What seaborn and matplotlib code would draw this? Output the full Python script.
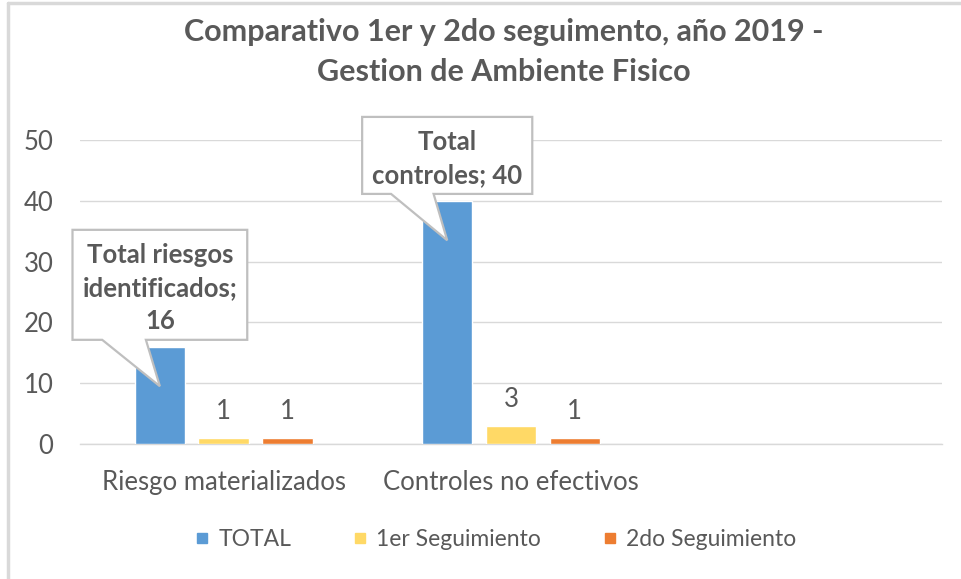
import matplotlib
matplotlib.use("Agg")
import matplotlib.pyplot as plt
from matplotlib.lines import Line2D
from matplotlib.patches import Polygon
import seaborn as sns
import pandas as pd

# ---- data ----
categories = ["Riesgo materializados", "Controles no efectivos", ""]
series = ["TOTAL", "1er Seguimiento", "2do Seguimiento"]
total = [16, 40]
primer = [1, 3]
segundo = [1, 1]
callout_text = ["Total riesgos\nidentificados;\n16", "Total\ncontroles; 40"]
title = "Comparativo 1er y 2do seguimento, año 2019 -\nGestion de Ambiente Fisico"
yticks = [0, 10, 20, 30, 40, 50]

colors = ["#5B9BD5", "#FFD966", "#ED7D31"]
TXT = "#595959"
GRID = "#D9D9D9"
FS = 18.5

rows = []
for i, cat in enumerate(categories[:2]):
    for s, vals in zip(series, [total, primer, segundo]):
        rows.append({"cat": cat, "serie": s, "valor": vals[i]})
df = pd.DataFrame(rows)

sns.set_theme(style="white")
plt.rcParams["font.family"] = ["Lato", "DejaVu Sans"]

W, H = 962, 579
fig = plt.figure(figsize=(W / 100, H / 100), dpi=100)
ax = fig.add_axes([80 / W, 1 - 444 / H, 862 / W, (444 - 140) / H])

sns.barplot(data=df, x="cat", y="valor", hue="serie", order=categories,
            hue_order=series, palette=colors, width=0.666, gap=0.21,
            saturation=1, ax=ax, legend=True, zorder=3)

ax.set_xlim(-0.5, 2.5)
ax.set_ylim(0, 50)
ax.set_yticks(yticks)
ax.set_xlabel("")
ax.set_ylabel("")
ax.grid(axis="y", color=GRID, lw=1, zorder=0)
ax.set_axisbelow(True)
for sp in ["top", "right", "left"]:
    ax.spines[sp].set_visible(False)
ax.spines["bottom"].set_color(GRID)
ax.spines["bottom"].set_linewidth(1)
ax.tick_params(axis="both", length=0, colors=TXT, labelsize=FS)
ax.tick_params(axis="x", pad=19)
ax.tick_params(axis="y", pad=19)

# data labels for follow-up series
for cont in ax.containers[1:]:
    ax.bar_label(cont, padding=10, fontsize=FS, color=TXT)

# callouts for TOTAL bars: text first, then the callout shape around it
texts = []
for bar, txt in zip(ax.containers[0], callout_text):
    xc = bar.get_x() + bar.get_width() / 2
    val = bar.get_height()
    t = ax.annotate(txt, xy=(xc, val), xycoords="data",
                    xytext=(0, 10), textcoords="offset points",
                    ha="center", va="bottom", fontsize=FS, fontweight="bold",
                    color=TXT, linespacing=1.45, annotation_clip=False, zorder=7)
    texts.append((t, xc, val))

fig.canvas.draw()
renderer = fig.canvas.get_renderer()
inv = fig.transFigure.inverted()
padx, pady_bot, pady_top = 10, 7, 13
for t, xc, val in texts:
    bb = t.get_window_extent(renderer)
    x0, x1 = bb.x0 - padx, bb.x1 + padx
    y0, y1 = bb.y0 - pady_bot, bb.y1 + pady_top
    w = x1 - x0
    tip = ax.transData.transform((xc, val - 6.5))
    pts = [(x0, y0), (x0 + 0.17 * w, y0), (tip[0], tip[1]),
           (x0 + 0.42 * w, y0), (x1, y0), (x1, y1), (x0, y1)]
    pts_fig = inv.transform(pts)
    poly = Polygon(pts_fig, closed=True, transform=fig.transFigure,
                   fc="white", ec="#BFBFBF", lw=1.6, zorder=5, clip_on=False)
    ax.add_patch(poly)

# legend
ax.get_legend().remove()
handles = [Line2D([0], [0], marker="s", ls="", markersize=7.5,
                  markerfacecolor=c, markeredgecolor=c) for c in colors]
fig.legend(handles, series, loc="center", bbox_to_anchor=(0.514, 1 - 540 / H),
           ncol=3, frameon=False, fontsize=16.5, labelcolor=TXT,
           handletextpad=0.3, columnspacing=2.6, handlelength=0.8)

# title
fig.text(0.524, 1 - 52 / H, title, ha="center", va="center", fontsize=22,
         fontweight="bold", color=TXT, linespacing=1.55)

# chart border (left and top edges visible)
fig.add_artist(Line2D([8 / W, 8 / W], [0, 1 - 3 / H], color=GRID, lw=2.5,
                      transform=fig.transFigure))
fig.add_artist(Line2D([8 / W, 1], [1 - 3 / H, 1 - 3 / H], color=GRID, lw=2.5,
                      transform=fig.transFigure))

fig.savefig("out.png", dpi=100)
